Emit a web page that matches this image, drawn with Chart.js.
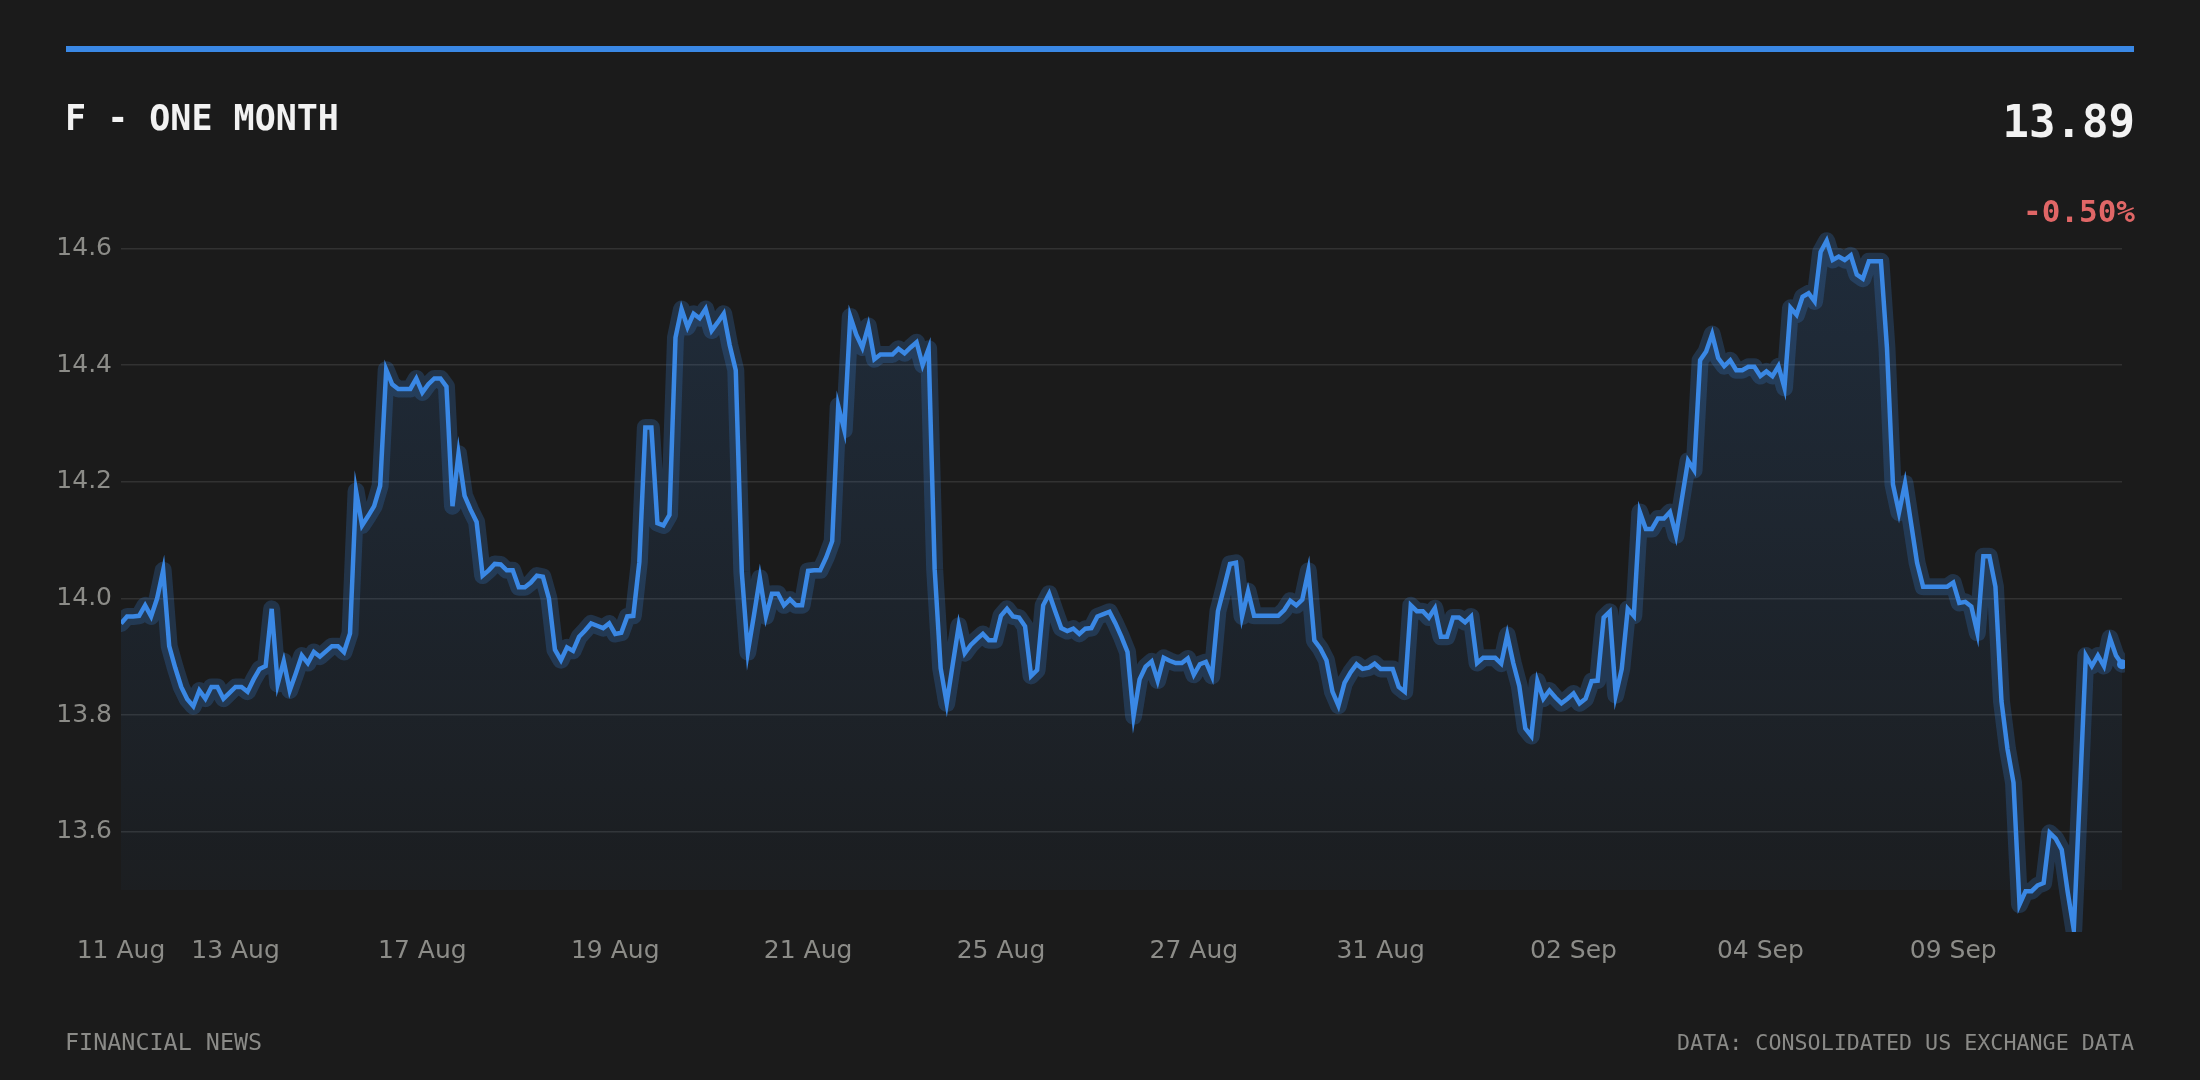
<!DOCTYPE html>
<html>
<head>
<meta charset="utf-8">
<script src="https://cdn.jsdelivr.net/npm/chart.js@4.4.1/dist/chart.umd.min.js"></script>
<style>
  html, body { margin: 0; padding: 0; background: #1b1b1b; }
  #wrap { position: relative; width: 2200px; height: 1080px; }
  canvas { display: block; }
</style>
</head>
<body>
<div id="wrap"><canvas id="c" width="2200" height="1080"></canvas></div>
<script>
// ---- data ----
const title = 'F - ONE MONTH';
const lastPriceText = '13.89';
const changeText = '-0.50%';
const footerLeft = 'FINANCIAL NEWS';
const footerRight = 'DATA: CONSOLIDATED US EXCHANGE DATA';

const dayLabels = ['11 Aug','12 Aug','13 Aug','14 Aug','17 Aug','18 Aug','19 Aug','20 Aug','21 Aug','24 Aug','25 Aug',
  '26 Aug','27 Aug','28 Aug','31 Aug','01 Sep','02 Sep','03 Sep','04 Sep','08 Sep','09 Sep','10 Sep'];
const pointsPerDay = [3,16,16,15,16,16,16,16,16,16,16,16,15,16,16,16,15,16,16,16,16,13];

const prices = [
13.957,13.969,13.969,13.970,13.988,13.969,14.000,14.048,13.918,13.881,
13.848,13.827,13.815,13.842,13.828,13.848,13.848,13.828,13.838,13.848,
13.848,13.840,13.861,13.879,13.884,13.982,13.853,13.892,13.842,13.871,
13.902,13.889,13.908,13.900,13.909,13.918,13.918,13.908,13.940,14.184,
14.125,14.141,14.158,14.193,14.392,14.367,14.359,14.359,14.359,14.377,
14.353,14.367,14.377,14.377,14.363,14.158,14.248,14.176,14.152,14.131,
14.039,14.048,14.059,14.058,14.048,14.048,14.019,14.019,14.027,14.039,
14.037,14.000,13.912,13.894,13.916,13.910,13.934,13.945,13.957,13.953,
13.949,13.957,13.939,13.941,13.969,13.970,14.062,14.293,14.293,14.129,
14.125,14.143,14.447,14.496,14.465,14.488,14.480,14.496,14.459,14.473,
14.488,14.434,14.391,14.045,13.908,13.970,14.035,13.969,14.008,14.008,
13.988,13.998,13.988,13.988,14.047,14.048,14.048,14.070,14.098,14.330,
14.289,14.483,14.452,14.430,14.467,14.410,14.418,14.418,14.418,14.428,
14.420,14.430,14.439,14.400,14.428,14.050,13.880,13.820,13.887,13.953,
13.906,13.920,13.930,13.939,13.928,13.928,13.970,13.982,13.969,13.967,
13.952,13.867,13.877,13.988,14.008,13.978,13.949,13.944,13.948,13.939,
13.948,13.949,13.969,13.973,13.977,13.957,13.934,13.908,13.798,13.861,
13.883,13.892,13.859,13.898,13.893,13.889,13.889,13.897,13.869,13.887,
13.891,13.867,13.978,14.018,14.059,14.061,13.969,14.012,13.970,13.970,
13.970,13.970,13.970,13.980,13.996,13.988,13.998,14.047,13.928,13.914,
13.894,13.840,13.816,13.855,13.873,13.887,13.879,13.881,13.888,13.879,
13.879,13.879,13.848,13.840,13.988,13.978,13.978,13.967,13.983,13.934,
13.934,13.967,13.967,13.959,13.969,13.889,13.898,13.898,13.898,13.888,
13.937,13.889,13.850,13.777,13.764,13.858,13.828,13.842,13.830,13.820,
13.828,13.837,13.820,13.828,13.858,13.859,13.967,13.977,13.834,13.879,
13.982,13.970,14.148,14.119,14.119,14.137,14.137,14.148,14.108,14.172,
14.236,14.220,14.408,14.423,14.453,14.412,14.398,14.408,14.391,14.391,
14.397,14.397,14.381,14.389,14.381,14.398,14.361,14.498,14.486,14.517,
14.523,14.509,14.594,14.613,14.580,14.586,14.580,14.588,14.555,14.548,
14.578,14.578,14.578,14.430,14.195,14.147,14.197,14.129,14.061,14.020,
14.020,14.020,14.020,14.020,14.027,13.992,13.994,13.986,13.941,14.072,
14.072,14.020,13.824,13.742,13.684,13.475,13.498,13.498,13.508,13.512,
13.598,13.588,13.569,13.496,13.432,13.664,13.902,13.884,13.902,13.884,
13.932,13.902,13.887
];

const yTicks = [13.6, 13.8, 14.0, 14.2, 14.4, 14.6];
const yMin = 13.5;
const yMax = 14.7;

// ---- build labels ----
const labels = [];
const tickText = [];
dayLabels.forEach((d, di) => {
  for (let k = 0; k < pointsPerDay[di]; k++) {
    labels.push(d);
    tickText.push(k === 0 && di % 2 === 0 ? d : '');
  }
});

// ---- style ----
const BLUE = '#3a88e5';
const TICK_COLOR = '#8c8c88';

const headerFooter = {
  id: 'headerFooter',
  afterDraw(chart) {
    const c = chart.ctx;
    c.save();
    c.fillStyle = BLUE;
    c.fillRect(66, 46, 2068, 6);
    c.textBaseline = 'alphabetic';
    c.fillStyle = '#f2f2f2';
    c.font = 'bold 35px "DejaVu Sans Mono"';
    c.textAlign = 'left';
    c.fillText(title, 65, 130);
    c.font = 'bold 44px "DejaVu Sans Mono"';
    c.textAlign = 'right';
    c.fillText(lastPriceText, 2135, 137);
    c.fillStyle = '#e06666';
    c.font = 'bold 31px "DejaVu Sans Mono"';
    c.fillText(changeText, 2135, 222);
    c.fillStyle = '#8a8a87';
    c.font = '23.4px "DejaVu Sans Mono"';
    c.textAlign = 'left';
    c.fillText(footerLeft, 65, 1050);
    c.font = '21.7px "DejaVu Sans Mono"';
    c.textAlign = 'right';
    c.fillText(footerRight, 2134, 1050);
    c.restore();
  }
};

const lastIdx = prices.length - 1;
const clipBox = { left: 0, top: 60, right: 3, bottom: 42 };

new Chart(document.getElementById('c'), {
  type: 'line',
  data: {
    labels: labels,
    datasets: [
      {
        data: prices,
        borderColor: BLUE,
        borderWidth: 4.5,
        tension: 0,
        fill: 'start',
        backgroundColor: (ctx) => {
          const ch = ctx.chart;
          const a = ch.chartArea;
          if (!a) return 'rgba(0,0,0,0)';
          const g = ch.ctx.createLinearGradient(0, a.top, 0, a.bottom);
          g.addColorStop(0, 'rgba(58,136,229,0.17)');
          g.addColorStop(1, 'rgba(58,136,229,0.03)');
          return g;
        },
        pointRadius: (ctx) => ctx.dataIndex === lastIdx ? 5 : 0,
        pointBackgroundColor: BLUE,
        pointBorderWidth: 0,
        pointHoverRadius: 0,
        clip: clipBox
      },
      {
        data: prices,
        borderColor: 'rgba(58,136,229,0.22)',
        borderWidth: 17,
        borderJoinStyle: 'round',
        borderCapStyle: 'round',
        tension: 0,
        fill: false,
        pointRadius: 0,
        pointHoverRadius: 0,
        clip: clipBox
      }
    ]
  },
  options: {
    responsive: false,
    animation: false,
    devicePixelRatio: 1,
    layout: { padding: { left: 0, right: 78, top: 190, bottom: 0 } },
    plugins: {
      legend: { display: false },
      tooltip: { enabled: false },
      filler: { drawTime: 'beforeDatasetsDraw' }
    },
    scales: {
      x: {
        type: 'category',
        grid: { display: false, drawTicks: false },
        border: { display: false },
        ticks: {
          autoSkip: false,
          maxRotation: 0,
          minRotation: 0,
          padding: 46,
          color: TICK_COLOR,
          font: { family: 'DejaVu Sans', size: 25 },
          callback: (v, i) => tickText[i]
        },
        afterFit: (s) => { s.height = 190; }
      },
      y: {
        type: 'linear',
        min: yMin,
        max: yMax,
        grid: { color: 'rgba(255,255,255,0.1)', lineWidth: 1.5, drawTicks: false },
        border: { display: false },
        ticks: {
          padding: 9,
          color: TICK_COLOR,
          font: { family: 'DejaVu Sans', size: 25 },
          callback: (v) => Number(v).toFixed(1)
        },
        afterBuildTicks: (axis) => { axis.ticks = yTicks.map(v => ({ value: v })); },
        afterFit: (s) => { s.width = 121; }
      }
    }
  },
  plugins: [headerFooter]
});
</script>
</body>
</html>
